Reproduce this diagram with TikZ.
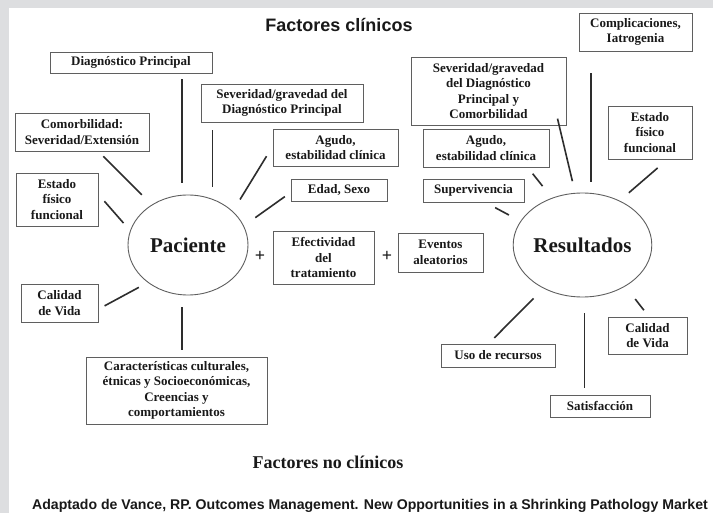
\documentclass[tikz,border=0pt]{standalone}
\usepackage{fontspec}
\setmainfont{Liberation Serif}
\newfontfamily\headfont{Liberation Sans}
\usetikzlibrary{shapes.geometric}
\definecolor{pagegray}{RGB}{221,222,224}
\definecolor{inkgray}{RGB}{95,95,95}
\definecolor{linegray}{RGB}{45,45,45}
\definecolor{textblack}{RGB}{25,25,25}
\begin{document}
\begin{tikzpicture}[x=1pt, y=-1pt,
  box/.style={draw=inkgray, line width=0.9pt, inner sep=0pt, align=center,
    text=textblack, font=\bfseries\fontsize{13}{15.5}\selectfont},
  hub/.style={ellipse, draw=inkgray, line width=0.9pt, inner sep=0pt,
    text=textblack, font=\bfseries\fontsize{21}{24}\selectfont},
  spoke/.style={linegray, line width=1.6pt},
  plus/.style={text=textblack, font=\bfseries\fontsize{18}{18}\selectfont}]
  \fill[pagegray] (0,0) rectangle (713,513);
  \fill[white] (9,8) rectangle (713,513);
  \useasboundingbox (0,0) rectangle (713,513);

  \node[text=textblack, font=\headfont\bfseries\fontsize{18}{20}\selectfont] (titulo) at (339,25) {Factores clínicos};

  % Paciente and its factors
  \node[hub, minimum width=120, minimum height=100] (pac) at (188,245) {Paciente};
  \node[box, minimum width=162, minimum height=21] (diag) at (131,62.5) {Diagnóstico Principal};
  \node[box, minimum width=162, minimum height=38] (sevL) at (282,103) {Severidad/gravedad del\\Diagnóstico Principal};
  \node[box, minimum width=134, minimum height=38] (comorb) at (82,132) {Comorbilidad:\\Severidad/Extensión};
  \node[box, minimum width=82, minimum height=53] (estadoL) at (57,199.5) {Estado\\físico\\funcional};
  \node[box, minimum width=125, minimum height=37] (agudoL) at (335.5,147.5) {Agudo,\\estabilidad clínica};
  \node[box, minimum width=96, minimum height=22] (edad) at (339,190) {Edad, Sexo};
  \node[box, minimum width=77, minimum height=38] (calidadL) at (59.5,303) {Calidad\\de Vida};
  \node[box, minimum width=181, minimum height=67] (caract) at (176.5,390.5) {Características culturales,\\étnicas y Socioeconómicas,\\Creencias y\\comportamientos};

  \draw[spoke, shorten <=6, shorten >=12] (diag.south -| pac.97) -- (pac.97);
  \draw[spoke, shorten <=8, shorten >=12] (sevL.south -| pac.62) -- (pac.62);
  \draw[spoke, shorten <=7, shorten >=14] (comorb.-50) -- (pac.132);
  \draw[spoke, shorten <=9, shorten >=10] (estadoL.7) -- (pac.166);
  \draw[spoke, shorten <=11.5, shorten >=13.7] (agudoL.179) -- (pac.37);
  \draw[spoke, shorten <=7, shorten >=14] (edad.183) -- (pac.19);
  \draw[spoke, shorten <=7, shorten >=10] (calidadL.-9) -- (pac.-137);
  \draw[spoke, shorten <=7, shorten >=12] (caract.north -| pac.-97) -- (pac.-97);

  % middle terms
  \node[plus] (mas1) at (260,256) {+};
  \node[box, minimum width=101, minimum height=53] (efect) at (323.5,257.5) {Efectividad\\del\\tratamiento};
  \node[plus] (mas2) at (387,256) {+};
  \node[box, minimum width=85, minimum height=39] (eventos) at (440.5,252.5) {Eventos\\aleatorios};

  % Resultados and its outcomes
  \node[hub, minimum width=113, minimum height=104] (res) at (582.5,245) {Resultados};
  \node[box, minimum width=113, minimum height=38] (compl) at (635.5,32) {Complicaciones,\\Iatrogenia};
  \node[box, minimum width=155, minimum height=68] (sevR) at (488.5,91) {Severidad/gravedad\\del Diagnóstico\\Principal y\\Comorbilidad};
  \node[box, minimum width=126, minimum height=38] (agudoR) at (486,148) {Agudo,\\estabilidad clínica};
  \node[box, minimum width=101, minimum height=23] (superv) at (473.5,190.5) {Supervivencia};
  \node[box, minimum width=84, minimum height=53] (estadoR) at (650,132.5) {Estado\\físico\\funcional};
  \node[box, minimum width=114, minimum height=23] (uso) at (498,355.5) {Uso de recursos};
  \node[box, minimum width=100, minimum height=22] (satis) at (600,406) {Satisfacción};
  \node[box, minimum width=79, minimum height=37] (calidadR) at (647.5,335.5) {Calidad\\de Vida};

  \draw[spoke, shorten <=22, shorten >=11] (compl.south -| res.81) -- (res.81);
  \draw[spoke, shorten <=-7, shorten >=12] (sevR.-26) -- (res.98);
  \draw[spoke, shorten <=8, shorten >=15] (agudoR.-25) -- (res.123);
  \draw[spoke, shorten <=11, shorten >=13] (superv.-45) -- (res.159);
  \draw[spoke, shorten <=13, shorten >=12] (estadoR.-57) -- (res.50);
  \draw[spoke, shorten <=8, shorten >=14] (uso.128) -- (res.-132);
  \draw[spoke, shorten <=7, shorten >=16] (satis.north -| res.-88) -- (res.-88);
  \draw[spoke, shorten <=8, shorten >=16] (calidadR.86) -- (res.-44);

  \node[text=textblack, font=\bfseries\fontsize{18}{20}\selectfont] (noclin) at (328,462) {Factores no clínicos};
  \node[text=textblack, font=\headfont\bfseries\fontsize{14.1}{16}\selectfont] (fuente) at (370,506) {Adaptado de Vance, RP. Outcomes Management. New Opportunities in a Shrinking Pathology Market};
\end{tikzpicture}
\end{document}
